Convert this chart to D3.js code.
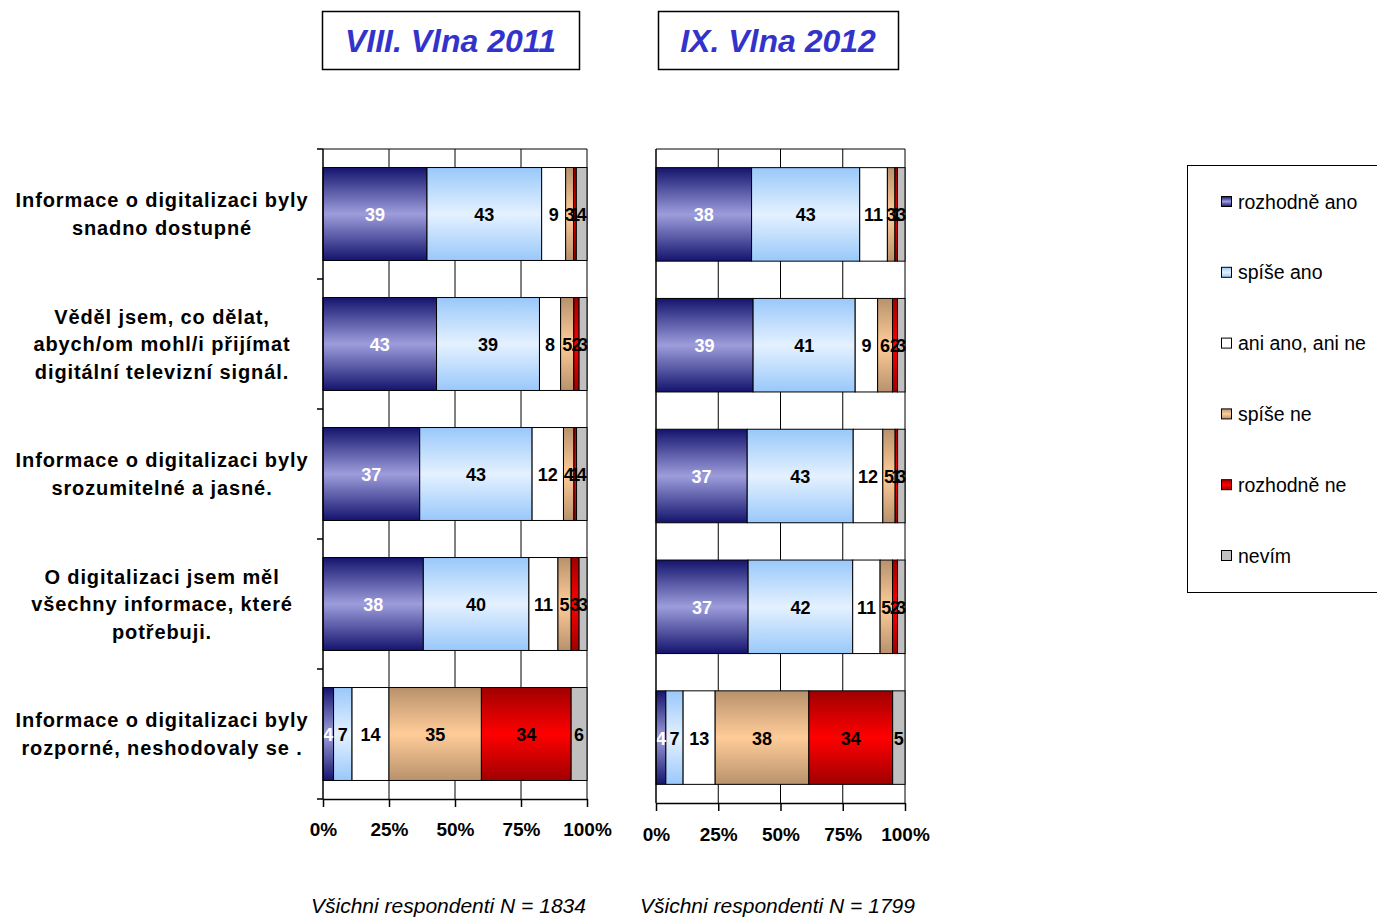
<!DOCTYPE html>
<html><head><meta charset="utf-8">
<script src="https://cdn.jsdelivr.net/npm/d3@7"></script>
<style>body{margin:0;background:#fff;}svg{display:block;font-family:"Liberation Sans",Arial,sans-serif;}</style>
</head><body>
<svg id="c" width="1377" height="917"></svg>
<script>
const categories = [
  ["Informace o digitalizaci byly","snadno dostupné"],
  ["Věděl jsem, co dělat,","abych/om mohl/i přijímat","digitální televizní signál."],
  ["Informace o digitalizaci byly","srozumitelné a jasné."],
  ["O digitalizaci jsem měl","všechny informace, které","potřebuji."],
  ["Informace o digitalizaci byly","rozporné, neshodovaly se ."]
];
const seriesNames = ["rozhodně ano","spíše ano","ani ano, ani ne","spíše ne","rozhodně ne","nevím"];
const wave2011 = [
  [39,43,9,3,1,4],
  [43,39,8,5,2,3],
  [37,43,12,4,1,4],
  [38,40,11,5,3,3],
  [4,7,14,35,34,6]
];
const wave2012 = [
  [38,43,11,3,1,3],
  [39,41,9,6,2,3],
  [37,43,12,5,1,3],
  [37,42,11,5,2,3],
  [4,7,13,38,34,5]
];
const tickLabels = ["0%","25%","50%","75%","100%"];
const titles = ["VIII. Vlna 2011","IX. Vlna 2012"];
const footers = ["Všichni respondenti N = 1834","Všichni respondenti N = 1799"];

const svg = d3.select("#c");
const defs = svg.append("defs");
const grads = [
  {edge:"#14146e", mid:"#9d9ddc"},
  {edge:"#99c8fa", mid:"#e4f1ff"},
  null,
  {edge:"#b8926c", mid:"#ffcc99"},
  {edge:"#a00000", mid:"#ff0000"},
  null
];
const flat = [null,null,"#ffffff",null,null,"#c0c0c0"];
grads.forEach((g,i)=>{
  if(!g) return;
  const lg = defs.append("linearGradient").attr("id","g"+i).attr("x1",0).attr("y1",0).attr("x2",0).attr("y2",1);
  lg.append("stop").attr("offset","0%").attr("stop-color",g.edge);
  lg.append("stop").attr("offset","50%").attr("stop-color",g.mid);
  lg.append("stop").attr("offset","100%").attr("stop-color",g.edge);
});
const fillOf = i => grads[i] ? `url(#g${i})` : flat[i];
const labelColor = i => i===0 ? "#ffffff" : "#000000";

// Titles
const titleBoxes = [{x:322,w:257},{x:658,w:240}];
titleBoxes.forEach((b,i)=>{
  svg.append("rect").attr("x",b.x+0.5).attr("y",11.5).attr("width",b.w).attr("height",58)
    .attr("fill","#fff").attr("stroke","#000").attr("stroke-width",1.5);
  svg.append("text").attr("x",b.x+b.w/2).attr("y",52).attr("text-anchor","middle")
    .attr("font-size",32).attr("font-weight","bold").attr("font-style","italic")
    .attr("fill","#3333cc").text(titles[i]);
});

// Category labels
categories.forEach((lines,i)=>{
  const cy = 149 + 130*i + 65;
  const n = lines.length;
  lines.forEach((l,j)=>{
    svg.append("text").attr("x",162).attr("y",cy + (j-(n-1)/2)*27.5 + 7)
      .attr("text-anchor","middle").attr("font-size",20).attr("font-weight","bold")
      .attr("letter-spacing",0.9).attr("fill","#000").text(l);
  });
});

function panel(data, x0, x1, y0, y1, leftTicks, labelY, footerX, footer){
  const x = d3.scaleLinear().domain([0,1]).range([x0,x1]);
  const y = d3.scaleBand().domain(d3.range(data.length)).range([y0,y1]).paddingInner(0.285).paddingOuter(0.1425);
  const g = svg.append("g");
  g.selectAll("line.grid").data([0.25,0.5,0.75,1]).join("line")
    .attr("x1",d=>x(d)).attr("x2",d=>x(d)).attr("y1",y0).attr("y2",y1)
    .attr("stroke","#000").attr("stroke-width",1);
  g.append("line").attr("x1",x0).attr("x2",x1).attr("y1",y0).attr("y2",y0).attr("stroke","#000");
  data.forEach((row,ri)=>{
    const tot = d3.sum(row);
    let acc = 0;
    row.forEach((v,si)=>{
      const a = acc/tot, b = (acc+v)/tot; acc += v;
      g.append("rect").attr("x",x(a)).attr("y",y(ri)).attr("width",x(b)-x(a)).attr("height",y.bandwidth())
        .attr("fill",fillOf(si)).attr("stroke","#000").attr("stroke-width",1);
    });
    acc = 0;
    row.forEach((v,si)=>{
      const a = acc/tot, b = (acc+v)/tot; acc += v;
      g.append("text").attr("x",(x(a)+x(b))/2).attr("y",y(ri)+y.bandwidth()/2+7)
        .attr("text-anchor","middle").attr("font-size",18).attr("font-weight","bold")
        .attr("fill",labelColor(si)).text(v);
    });
  });
  g.append("line").attr("x1",x0).attr("x2",x0).attr("y1",y0).attr("y2",y1).attr("stroke","#000").attr("stroke-width",1.5);
  if(leftTicks){
    d3.range(data.length+1).forEach(k=>{
      const yy = y0 + k*y.step();
      g.append("line").attr("x1",x0-6).attr("x2",x0).attr("y1",yy).attr("y2",yy).attr("stroke","#000").attr("stroke-width",1.5);
    });
  }
  const ax = g.append("g").attr("transform",`translate(0,${y1})`)
    .call(d3.axisBottom(x).tickValues([0,0.25,0.5,0.75,1]).tickFormat((d,i)=>tickLabels[i]).tickSize(8).tickSizeOuter(0));
  ax.select(".domain").attr("stroke","#000").attr("stroke-width",1.5);
  ax.selectAll(".tick line").attr("stroke","#000").attr("stroke-width",1.5);
  ax.selectAll(".tick text").attr("font-size",19).attr("font-weight","bold").attr("fill","#000")
    .attr("font-family","'Liberation Sans',Arial,sans-serif").attr("y",labelY - y1).attr("dy","0.35em");
  svg.append("text").attr("x",footerX).attr("y",913).attr("font-size",21).attr("font-style","italic")
    .attr("fill","#000").text(footer);
}
panel(wave2011, 323, 587, 149, 799, true, 829, 311, footers[0]);
panel(wave2012, 656, 905, 149, 803, false, 834, 640, footers[1]);

// Legend
svg.append("rect").attr("x",1187.5).attr("y",165.5).attr("width",200).attr("height",427)
  .attr("fill","#fff").attr("stroke","#000").attr("stroke-width",1);
seriesNames.forEach((s,i)=>{
  const cy = 202 + i*70.8;
  svg.append("rect").attr("x",1221.5).attr("y",cy-5.5).attr("width",10).attr("height",10)
    .attr("fill",fillOf(i)).attr("stroke","#000").attr("stroke-width",1);
  svg.append("text").attr("x",1238).attr("y",cy+6.5).attr("font-size",19.5).attr("fill","#000").text(s);
});
</script>
</body></html>
